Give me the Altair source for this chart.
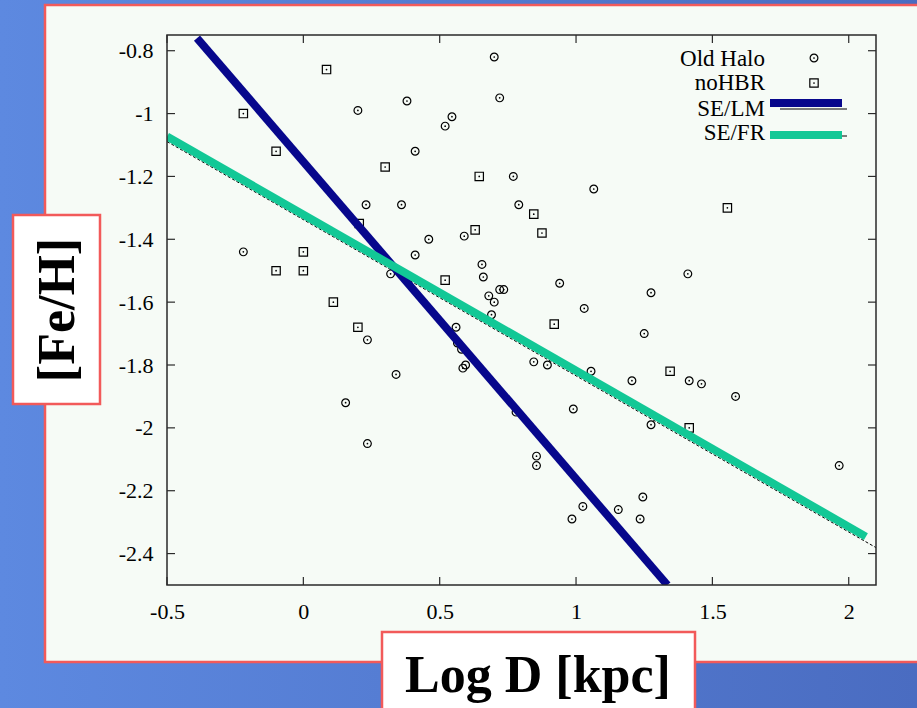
import altair as alt
import pandas as pd

# ---------------- data ----------------
halo_x = [0.70, 0.72, 0.38, 0.20, 0.545, 0.52, 0.41, 0.77, 1.065, 0.23, 0.36, 0.79,
          0.46, 0.59, -0.22, 0.41, 0.655, 0.66, 0.32, 1.41, 0.94, 0.72, 0.735, 1.275,
          0.68, 0.70, 1.03, 0.69, 0.56, 1.25, 0.235, 0.565, 0.58, 0.595, 0.585, 0.845,
          0.895, 0.34, 1.055, 1.205, 1.415, 1.46, 1.585, 0.155, 0.99, 0.78, 1.275,
          0.235, 0.855, 0.855, 1.965, 1.245, 1.025, 1.155, 0.985, 1.235]
halo_y = [-0.82, -0.95, -0.96, -0.99, -1.01, -1.04, -1.12, -1.20, -1.24, -1.29, -1.29, -1.29,
          -1.40, -1.39, -1.44, -1.45, -1.48, -1.52, -1.51, -1.51, -1.54, -1.56, -1.56, -1.57,
          -1.58, -1.60, -1.62, -1.64, -1.68, -1.70, -1.72, -1.73, -1.75, -1.80, -1.81, -1.79,
          -1.80, -1.83, -1.82, -1.85, -1.85, -1.86, -1.90, -1.92, -1.94, -1.95, -1.99,
          -2.05, -2.09, -2.12, -2.12, -2.22, -2.25, -2.26, -2.29, -2.29]

nohbr_x = [0.085, -0.22, -0.10, 0.30, 0.645, 1.555, 0.845, 0.875, 0.63, 0.205, 0.0,
           -0.10, 0.0, 0.52, 0.11, 0.20, 0.92, 1.345, 1.415]
nohbr_y = [-0.86, -1.00, -1.12, -1.17, -1.20, -1.30, -1.32, -1.38, -1.37, -1.35, -1.44,
           -1.50, -1.50, -1.53, -1.60, -1.68, -1.67, -1.82, -2.00]

se_lm_x = [-0.39, 1.335]
se_lm_y = [-0.76, -2.50]
se_fr_x = [-0.50, 2.063]
se_fr_y = [-1.073, -2.346]
fit_x = [-0.50, 2.11]
fit_y = [-1.089, -2.386]

x_ticks = [-0.5, 0, 0.5, 1, 1.5, 2]
y_ticks = [-0.8, -1.0, -1.2, -1.4, -1.6, -1.8, -2.0, -2.2, -2.4]

legend_labels = ["Old Halo", "noHBR", "SE/LM", "SE/FR"]
x_title = "Log D [kpc]"
y_title = "[Fe/H]"

# ---------------- layout ----------------
W, H = 709, 550
PL, PT = 167, 35
PR, PB = 917 - PL - W, 708 - PT - H
XD = [-0.5, 2.1]
YD = [-2.5, -0.75]

LM_COL = "#07078c"
FR_COL = "#12c896"
PINK = "#f25a5a"
FRAME = "#2a2a2a"
SERIF = "Liberation Serif"

x_axis = alt.Axis(values=x_ticks, labelExpr="'' + datum.value", ticks=False, tickSize=0,
                  domain=False, grid=False, labelFont=SERIF, labelFontSize=22,
                  labelColor="black", labelPadding=16, labelFlush=False,
                  labelOverlap=False, title=None, zindex=2)
y_axis = alt.Axis(values=y_ticks, labelExpr="'' + datum.value", ticks=False, tickSize=0,
                  domain=False, grid=False, labelFont=SERIF, labelFontSize=22,
                  labelColor="black", labelPadding=14, labelFlush=False,
                  labelOverlap=False, title=None, zindex=2)


def X(f="x"):
    return alt.X(f"{f}:Q", scale=alt.Scale(domain=XD, nice=False, zero=False), axis=x_axis)


def Y(f="y"):
    return alt.Y(f"{f}:Q", scale=alt.Scale(domain=YD, nice=False, zero=False), axis=y_axis)


one = pd.DataFrame({"k": [0]})
halo = pd.DataFrame({"x": halo_x, "y": halo_y})
nohbr = pd.DataFrame({"x": nohbr_x, "y": nohbr_y})
allpts = pd.concat([halo, nohbr], ignore_index=True)
lm = pd.DataFrame({"x": se_lm_x, "y": se_lm_y})
fr = pd.DataFrame({"x": se_fr_x, "y": se_fr_y})
fit = pd.DataFrame({"x": fit_x, "y": fit_y})
xt = pd.DataFrame({"v": x_ticks})
yt = pd.DataFrame({"v": y_ticks})

# ---------------- decoration ----------------
bg = alt.Chart(one).mark_rect(
    color=alt.LinearGradient(
        gradient="linear",
        stops=[alt.GradientStop(color="#5d89e0", offset=0),
               alt.GradientStop(color="#4a6cc1", offset=1)],
        x1=0, x2=1, y1=0, y2=0)
).encode(x=alt.value(-PL), x2=alt.value(W + PR), y=alt.value(-PT), y2=alt.value(H + PB))

panel = alt.Chart(one).mark_rect(fill="#f6fbf6", stroke=PINK, strokeWidth=2.5).encode(
    x=alt.value(45 - PL), x2=alt.value(W + PR + 10), y=alt.value(5 - PT), y2=alt.value(662 - PT))

ybox = alt.Chart(one).mark_rect(fill="white", stroke=PINK, strokeWidth=2.5).encode(
    x=alt.value(13 - PL), x2=alt.value(100 - PL), y=alt.value(215 - PT), y2=alt.value(404 - PT))

xbox = alt.Chart(one).mark_rect(fill="white", stroke=PINK, strokeWidth=2.5).encode(
    x=alt.value(382 - PL), x2=alt.value(695 - PL), y=alt.value(632 - PT), y2=alt.value(730 - PT))

ylab = alt.Chart(one).mark_text(text=y_title, font=SERIF, fontWeight="bold", fontSize=52,
                                angle=270, align="center", baseline="middle",
                                color="black").encode(
    x=alt.value(58 - PL), y=alt.value(310 - PT))

xlab = alt.Chart(one).mark_text(text=x_title, font=SERIF, fontWeight="bold", fontSize=52,
                                align="center", baseline="alphabetic",
                                color="black").encode(
    x=alt.value(538 - PL), y=alt.value(692 - PT))

# ---------------- data marks ----------------
halo_pts = alt.Chart(halo).mark_point(shape="circle", size=60, color="black",
                                      strokeWidth=1.2, opacity=1).encode(x=X(), y=Y())
nohbr_pts = alt.Chart(nohbr).mark_point(shape="square", size=70, color="black",
                                        strokeWidth=1.2, opacity=1).encode(x=X(), y=Y())
dots = alt.Chart(allpts).mark_circle(size=3, color="black", opacity=1).encode(x=X(), y=Y())

fit_line = alt.Chart(fit).mark_line(color="black", strokeWidth=1, strokeDash=[3, 2],
                                    clip=True).encode(x=X(), y=Y())
lm_line = alt.Chart(lm).mark_line(color=LM_COL, strokeWidth=8, strokeCap="butt",
                                  clip=True).encode(x=X(), y=Y())
fr_line = alt.Chart(fr).mark_line(color=FR_COL, strokeWidth=8, strokeCap="butt",
                                  clip=True).encode(x=X(), y=Y())

# ---------------- frame and inward ticks ----------------
frame = alt.Chart(one).mark_rect(fillOpacity=0, stroke=FRAME, strokeWidth=1.5).encode(
    x=alt.value(0), x2=alt.value(W), y=alt.value(0), y2=alt.value(H))

tick_b = alt.Chart(xt).mark_rule(color=FRAME, strokeWidth=1.2).encode(
    x=X("v"), y=alt.value(H), y2=alt.value(H - 8))
tick_t = alt.Chart(xt).mark_rule(color=FRAME, strokeWidth=1.2).encode(
    x=X("v"), y=alt.value(0), y2=alt.value(8))
tick_l = alt.Chart(yt).mark_rule(color=FRAME, strokeWidth=1.2).encode(
    y=Y("v"), x=alt.value(0), x2=alt.value(8))
tick_r = alt.Chart(yt).mark_rule(color=FRAME, strokeWidth=1.2).encode(
    y=Y("v"), x=alt.value(W), x2=alt.value(W - 8))

# ---------------- legend (inside, top right) ----------------
LTX = 765 - PL
leg = []
for lbl, base in zip(legend_labels, [66, 90, 116, 140]):
    leg.append(alt.Chart(one).mark_text(text=lbl, font=SERIF, fontSize=23, align="right",
                                        baseline="alphabetic", color="black").encode(
        x=alt.value(LTX), y=alt.value(base - PT)))
leg.append(alt.Chart(one).mark_point(shape="circle", size=60, color="black", strokeWidth=1.2,
                                     opacity=1).encode(x=alt.value(814 - PL), y=alt.value(58 - PT)))
leg.append(alt.Chart(one).mark_point(shape="square", size=70, color="black", strokeWidth=1.2,
                                     opacity=1).encode(x=alt.value(814 - PL), y=alt.value(83 - PT)))
leg.append(alt.Chart(one).mark_circle(size=3, color="black", opacity=1).encode(
    x=alt.value(814 - PL), y=alt.value(58 - PT)))
leg.append(alt.Chart(one).mark_circle(size=3, color="black", opacity=1).encode(
    x=alt.value(814 - PL), y=alt.value(83 - PT)))
leg.append(alt.Chart(one).mark_rule(color="black", strokeWidth=1.2).encode(
    x=alt.value(780 - PL), x2=alt.value(847 - PL), y=alt.value(109 - PT)))
leg.append(alt.Chart(one).mark_rule(color=LM_COL, strokeWidth=8).encode(
    x=alt.value(770 - PL), x2=alt.value(842 - PL), y=alt.value(103 - PT)))
leg.append(alt.Chart(one).mark_rule(color="black", strokeWidth=1).encode(
    x=alt.value(836 - PL), x2=alt.value(847 - PL), y=alt.value(136 - PT)))
leg.append(alt.Chart(one).mark_rule(color=FR_COL, strokeWidth=8).encode(
    x=alt.value(770 - PL), x2=alt.value(842 - PL), y=alt.value(135 - PT)))

chart = alt.layer(
    bg, panel, ybox, xbox, ylab, xlab,
    halo_pts, nohbr_pts, dots,
    fit_line, lm_line, fr_line,
    frame, tick_b, tick_t, tick_l, tick_r,
    *leg
).properties(
    width=W, height=H,
    padding={"left": PL, "top": PT, "right": PR, "bottom": PB},
    autosize=alt.AutoSizeParams(type="none"),
).configure(background="#5479d1").configure_view(strokeWidth=0)

chart.save("out.html", embed_options={"renderer": "svg", "actions": False})
